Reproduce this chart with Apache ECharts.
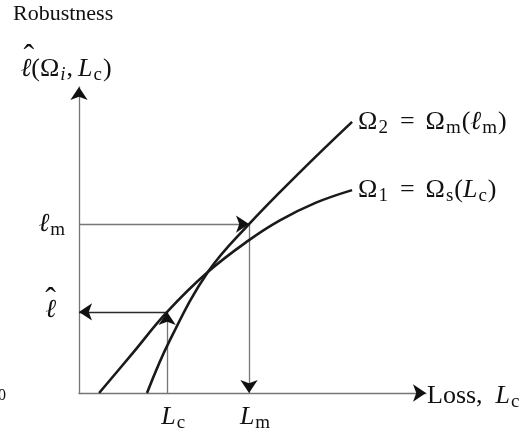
<!DOCTYPE html>
<html>
<head>
<meta charset="utf-8">
<script src="https://cdn.jsdelivr.net/npm/echarts@6/dist/echarts.min.js"></script>
<style>
  html, body { margin: 0; padding: 0; background: #ffffff; }
  #chart { width: 529px; height: 437px; }
</style>
</head>
<body>
<div id="chart"></div>
<script>
// Robustness curves: loss (x) against robustness (y), arbitrary units
const omega1Curve = [[0.58, 0], [1.56, 1.32], [2.54, 2.65], [3.72, 3.96], [4.87, 4.97], [5.79, 5.64], [6.83, 6.22], [7.87, 6.63]];
const omega2Curve = [[1.96, 0], [2.62, 1.73], [3.72, 3.96], [4.90, 5.52], [6.37, 7.22], [7.87, 8.86]];

// Marked losses on the x axis: critical loss L_c and L_m
const lossTicks = [2.54, 4.90];
const lossTickNames = ['Lc', 'Lm'];
// Marked robustness levels on the y axis: 0, ℓ-hat and ℓ_m
const robustTicks = [0, 2.65, 5.52];
const robustTickNames = ['zero', 'hat', 'lm'];
// Axis extent
const axisMax = 10;

const SERIF = "'Liberation Serif', 'DejaVu Serif', serif";
const AXIS_GREY = '#767676';
const INK = '#111111';

const Lc = lossTicks[0], Lm = lossTicks[1];
const ellHat = robustTicks[1], ellM = robustTicks[2];

// shared rich-text styles for the math labels;
// the top padding of a subscript pushes it below the main baseline
const mathRich = {
  up:   { fontFamily: SERIF, fontSize: 26, lineHeight: 22, color: INK },
  it:   { fontFamily: SERIF, fontSize: 26, lineHeight: 22, fontStyle: 'italic', color: INK },
  eq:   { fontFamily: SERIF, fontSize: 26, lineHeight: 22, color: INK, padding: [0, 11, 0, 11] },
  cm:   { fontFamily: SERIF, fontSize: 26, lineHeight: 22, color: INK, padding: [0, 5, 0, 0] },
  sub:  { fontFamily: SERIF, fontSize: 19, lineHeight: 9, color: INK, padding: [12, 1, 0, 1] },
  subi: { fontFamily: SERIF, fontSize: 19, lineHeight: 9, fontStyle: 'italic', color: INK, padding: [12, 1, 0, 1] }
};

// guide lines between the axes and the curves (each ends in an arrow)
const guideLines = [
  { coords: [[Lc, ellHat], [0, ellHat]], color: '#2a2a2a' },
  { coords: [[Lc, 0], [Lc, ellHat]], color: AXIS_GREY },
  { coords: [[0, ellM], [Lm, ellM]], color: AXIS_GREY },
  { coords: [[Lm, ellM], [Lm, 0]], color: AXIS_GREY }
];
// the two axes, drawn as arrows
const axisArrows = [
  [[0, 0], [axisMax, 0]],
  [[0, 0], [0, axisMax]]
];

const chart = echarts.init(document.getElementById('chart'), null, { renderer: 'canvas' });

function curveSeries(name, points, labelText) {
  return {
    name: name,
    type: 'line',
    data: points,
    smooth: 0.4,
    showSymbol: false,
    symbol: 'none',
    lineStyle: { color: '#1a1a1a', width: 2.6 },
    endLabel: { show: true, distance: 6, formatter: labelText, rich: mathRich },
    z: 5
  };
}

chart.setOption({
  animation: false,
  backgroundColor: '#ffffff',
  grid: { left: 79, top: 87, width: 347, height: 306, containLabel: false, outerBoundsMode: 'none' },
  graphic: [{
    type: 'text',
    left: 13,
    top: 3,
    style: { text: 'Robustness', fontFamily: SERIF, fontSize: 22, fill: INK }
  }],
  xAxis: {
    type: 'value',
    min: 0,
    max: axisMax,
    name: '{up|Loss,  }{it|L}{sub|c}',
    nameLocation: 'end',
    nameGap: 1,
    nameTextStyle: { rich: mathRich, align: 'left', verticalAlign: 'middle', padding: [6, 0, 0, 0] },
    axisLine: { onZero: false, lineStyle: { color: AXIS_GREY, width: 1.3 } },
    axisTick: { show: false },
    splitLine: { show: false },
    axisLabel: {
      customValues: lossTicks,
      margin: 13,
      padding: [0, 0, 0, 13],
      formatter: function (v) {
        const name = lossTickNames[lossTicks.indexOf(v)];
        return name === 'Lc' ? '{it|L}{sub|c}' : '{it|L}{sub|m}';
      },
      rich: mathRich
    }
  },
  yAxis: {
    type: 'value',
    min: 0,
    max: axisMax,
    name: '{hatY|ˆ}\n{it|ℓ}{up|(Ω}{subi|i}{cm|,}{it|L}{sub|c}{up|)}',
    nameLocation: 'end',
    nameGap: 7,
    nameTextStyle: {
      rich: Object.assign({}, mathRich, {
        hatY: { fontFamily: SERIF, fontSize: 32, lineHeight: 1, color: INK, align: 'left', padding: [0, 0, 0, 3] }
      }),
      align: 'center', verticalAlign: 'bottom', padding: [0, 26, 0, 0]
    },
    axisLine: { onZero: false, lineStyle: { color: AXIS_GREY, width: 1.3 } },
    axisTick: { show: false },
    splitLine: { show: false },
    axisLabel: {
      customValues: robustTicks,
      margin: 13,
      formatter: function (v) {
        const name = robustTickNames[robustTicks.indexOf(v)];
        if (name === 'zero') return '{zero|0}';
        if (name === 'hat') return '{hat|ˆ}\n{ell|ℓ}';
        return '{it|ℓ}{sub|m}';
      },
      rich: Object.assign({}, mathRich, {
        zero: { fontFamily: SERIF, fontSize: 16, color: INK, padding: [6, 60, 0, 0] },
        hat: { fontFamily: SERIF, fontSize: 32, lineHeight: 1, color: INK, align: 'left' },
        ell: { fontFamily: SERIF, fontSize: 26, lineHeight: 22, fontStyle: 'italic', color: INK, align: 'left', padding: [0, 10, 4, 0] }
      })
    }
  },
  series: [
    curveSeries('Ω1', omega1Curve, '{up|Ω}{sub|1}{eq|=}{up|Ω}{sub|s}{up|(}{it|L}{sub|c}{up|)}'),
    curveSeries('Ω2', omega2Curve, '{up|Ω}{sub|2}{eq|=}{up|Ω}{sub|m}{up|(}{it|ℓ}{sub|m}{up|)}'),
    {
      // thin guide strokes
      name: 'guides',
      type: 'lines',
      coordinateSystem: 'cartesian2d',
      symbol: 'none',
      data: guideLines.map(a => ({ coords: a.coords, lineStyle: { color: a.color } })),
      lineStyle: { width: 1.3, opacity: 1 },
      z: 3
    },
    {
      // solid arrowheads at the ends of the guides and axes
      name: 'arrowheads',
      type: 'lines',
      coordinateSystem: 'cartesian2d',
      clip: false,
      symbol: ['none', 'arrow'],
      symbolSize: [8, 13],
      symbolOffset: [0, 6],
      data: guideLines.map(a => a.coords).concat(axisArrows).map(c => ({ coords: c })),
      lineStyle: { width: 0.01, color: INK, opacity: 1 },
      z: 6
    }
  ]
});
</script>
</body>
</html>
